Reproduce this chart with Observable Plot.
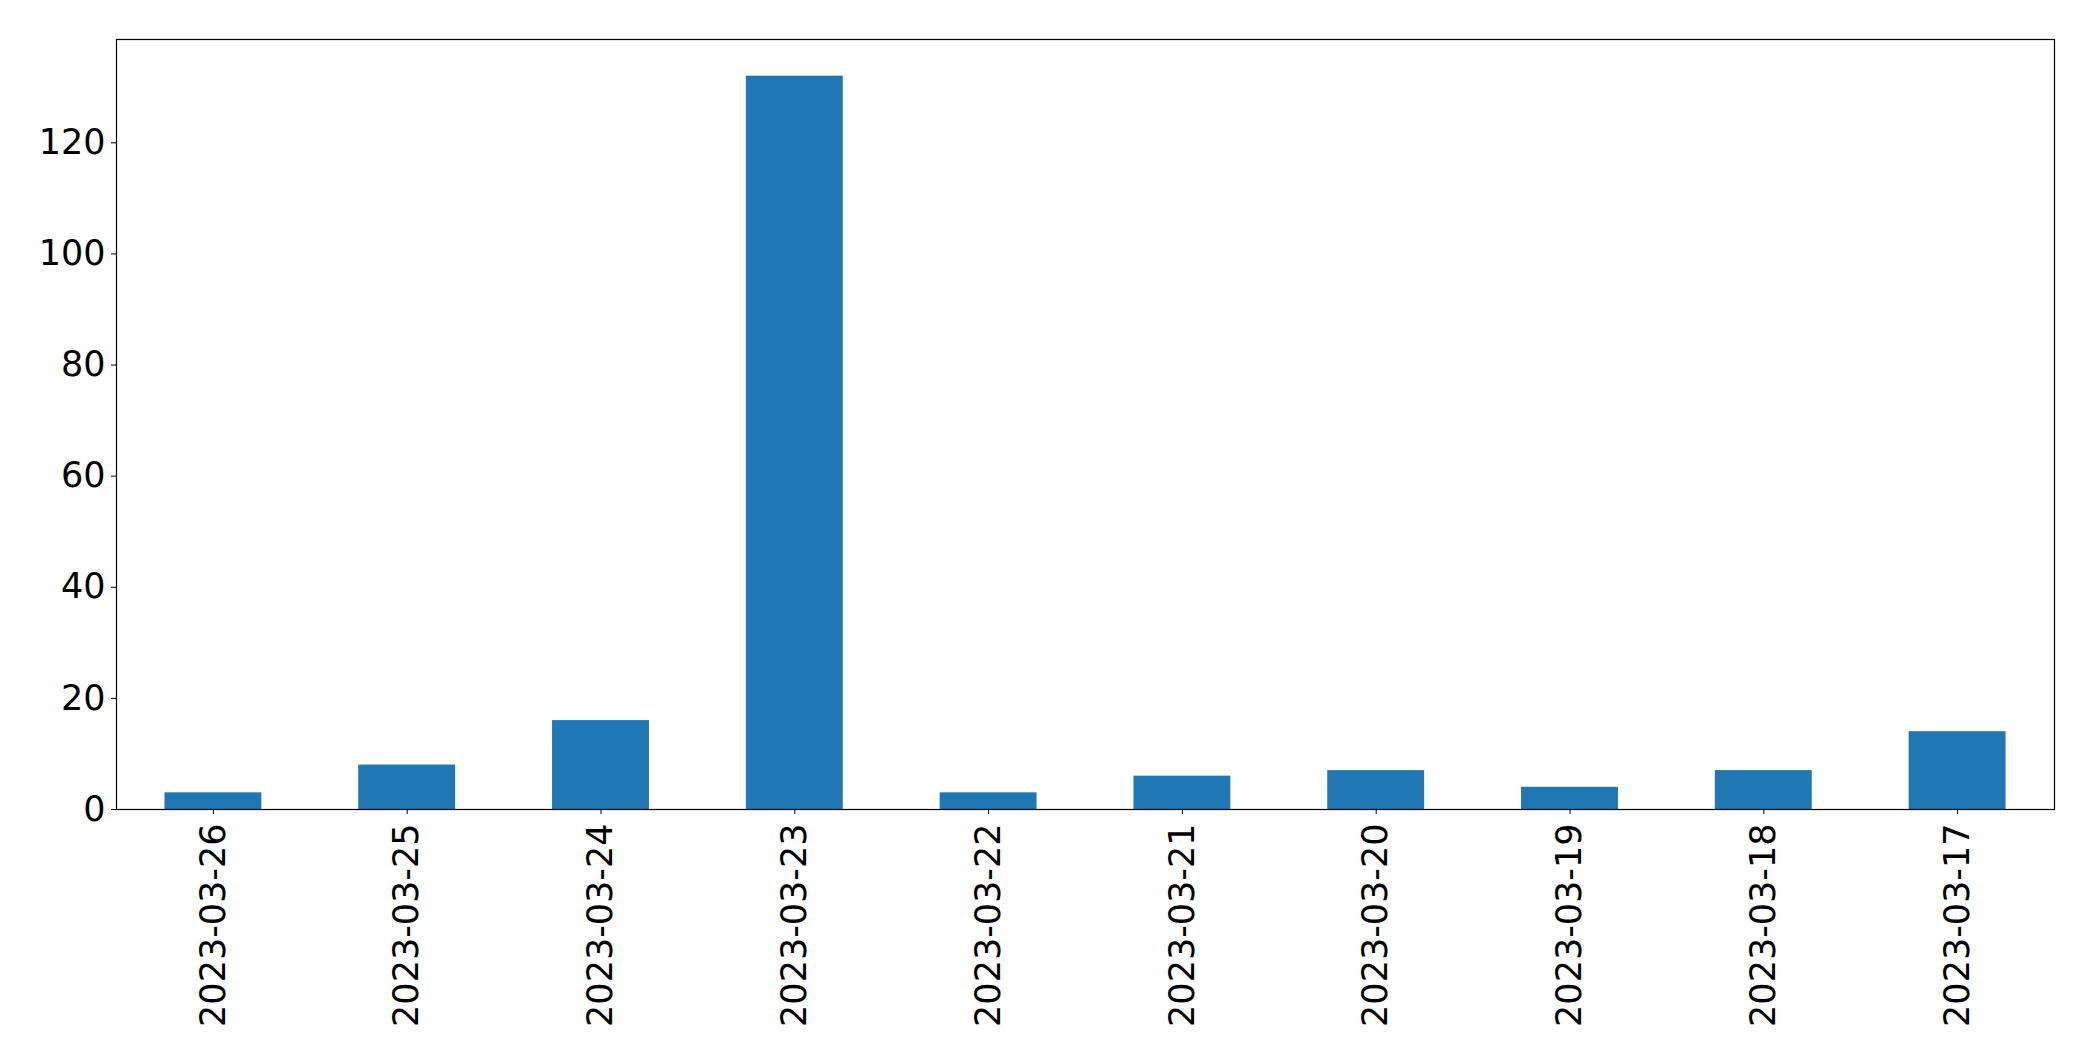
<!DOCTYPE html>
<html>
<head>
<meta charset="utf-8">
<script src="https://cdn.jsdelivr.net/npm/d3@7"></script>
<script src="https://cdn.jsdelivr.net/npm/@observablehq/plot@0.6"></script>
<style>
  html, body { margin: 0; padding: 0; background: #fff; }
  svg { display: block; }
</style>
</head>
<body>
<div id="chart"></div>
<script>
const dates = ["2023-03-26", "2023-03-25", "2023-03-24", "2023-03-23", "2023-03-22",
               "2023-03-21", "2023-03-20", "2023-03-19", "2023-03-18", "2023-03-17"];
const counts = [3, 8, 16, 132, 3, 6, 7, 4, 7, 14];
const yTicks = [0, 20, 40, 60, 80, 100, 120];

const data = dates.map((d, i) => ({date: d, value: counts[i]}));

const chart = Plot.plot({
  width: 2093,
  height: 1061,
  marginLeft: 116,
  marginRight: 39,
  marginTop: 39,
  marginBottom: 252,
  style: {fontFamily: "DejaVu Sans", background: "#fff", color: "#000"},
  x: {domain: dates, paddingInner: 0.5, paddingOuter: 0.25, round: false, label: null},
  y: {domain: [0, 132 * 1.05], label: null},
  marks: [
    Plot.barY(data, {x: "date", y: "value", fill: "#1f77b4"}),
    Plot.frame({stroke: "#000", strokeWidth: 1.2}),
    Plot.axisY({ticks: yTicks, tickSize: 5, tickPadding: 6, fontSize: 35, label: null, stroke: "#000", color: "#000"}),
    Plot.axisX({tickRotate: -90, tickSize: 5, tickPadding: 9, fontSize: 35, label: null, stroke: "#000", color: "#000"})
  ]
});
document.getElementById("chart").appendChild(chart);
</script>
</body>
</html>
